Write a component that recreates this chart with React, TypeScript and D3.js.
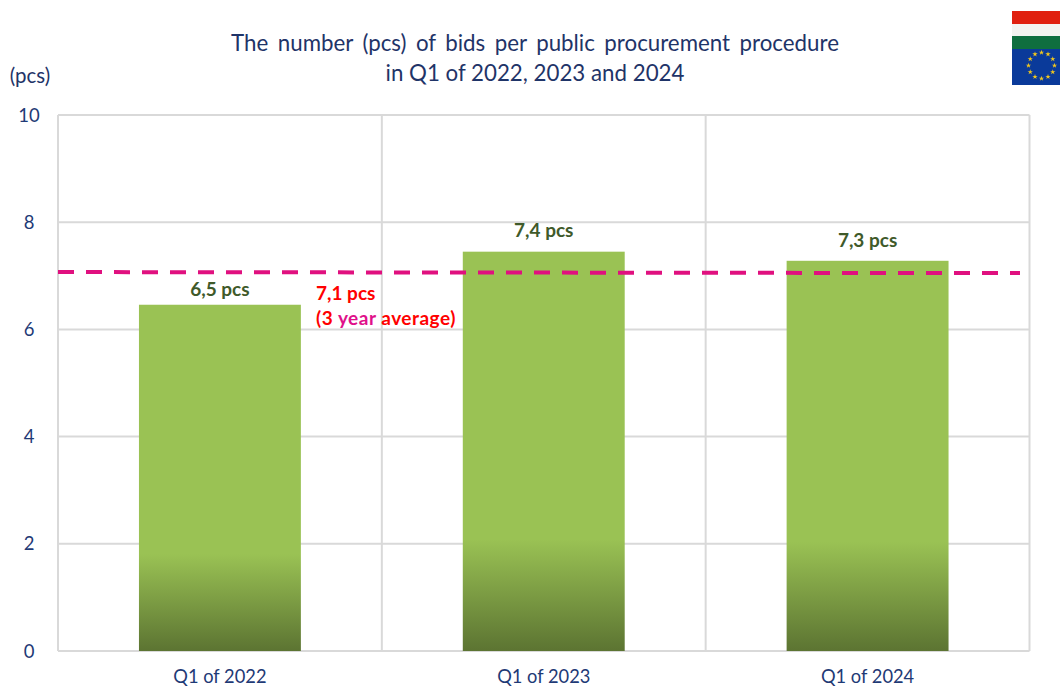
import React from "react";
import * as d3 from "d3";

const categories = ["Q1 of 2022", "Q1 of 2023", "Q1 of 2024"];
const values = [6.46, 7.45, 7.28];
const barLabels = ["6,5 pcs", "7,4 pcs", "7,3 pcs"];
const yTicks = [0, 2, 4, 6, 8, 10];
const averageLine = [7.07, 7.05];
const titleLines = ["The number (pcs) of bids per public procurement procedure", "in Q1 of 2022, 2023 and 2024"];
const avgLabelTop = "7,1 pcs";
const avgLabelBottom = [
  { text: "(3 ", color: "#ff0000" },
  { text: "year", color: "#e0108a" },
  { text: " average)", color: "#ff0000" },
];
const euStars = d3.range(12);

const FONT = "Lato, 'Open Sans', sans-serif";
const NAVY = "#1f3a76";
const TITLE = "#1f3468";
const labelGaps = [9, 15, 14];
const titleWordSpacing = [3.8, 0];

export default function App() {
  const x = d3.scaleBand<string>().domain(categories).range([58, 1029.5]).paddingInner(0.5).paddingOuter(0.25);
  const outer = d3.scaleBand<string>().domain(categories).range([58, 1029.5]);
  const y = d3.scaleLinear().domain([0, 10]).range([651, 115]);
  const star = d3.symbol().type(d3.symbolStar).size(9)() as string;
  const dashX = d3.scaleLinear().domain([0, 1]).range([58, 1020]);
  return (
    <svg width={1060} height={686} style={{ position: "absolute", left: 0, top: 0, background: "#fff" }} fontFamily={FONT}>
      <defs>
        <linearGradient id="barFill" x1="0" y1="0" x2="0" y2="1">
          <stop offset="0.72" stopColor="#9ac254" />
          <stop offset="1" stopColor="#5c7432" />
        </linearGradient>
      </defs>

      {titleLines.map((t, i) => (
        <text key={t} x={535} y={51 + i * 30} textAnchor="middle" fontSize={22.3} wordSpacing={titleWordSpacing[i]} fill={TITLE}>{t}</text>
      ))}
      <text x={30} y={83} textAnchor="middle" fontSize={20.5} fill={TITLE}>(pcs)</text>

      {yTicks.map((t) => (
        <g key={t}>
          <line x1={58} x2={1029.5} y1={y(t)} y2={y(t)} stroke="#d9d9d9" strokeWidth={2} />
          <text x={29} y={y(t) + 6.5} textAnchor="middle" fontSize={18.5} fill={NAVY}>{t}</text>
        </g>
      ))}
      {[0, 1, 2, 3].map((i) => {
        const px = 58 + i * outer.bandwidth();
        return <line key={i} x1={px} x2={px} y1={115} y2={651} stroke="#d9d9d9" strokeWidth={2} />;
      })}

      {categories.map((c, i) => (
        <g key={c}>
          <rect x={x(c)} y={y(values[i])} width={x.bandwidth()} height={651 - y(values[i])} fill="url(#barFill)" />
          <text x={x(c)! + x.bandwidth() / 2} y={y(values[i]) - labelGaps[i]} textAnchor="middle" fontSize={19} fontWeight={700} fill="#3f5a2a">{barLabels[i]}</text>
          <text x={x(c)! + x.bandwidth() / 2} y={682.5} textAnchor="middle" fontSize={18.3} fill={NAVY}>{c}</text>
        </g>
      ))}

      <line x1={dashX(0)} x2={dashX(1)} y1={y(averageLine[0])} y2={y(averageLine[1])} stroke="#e0107f" strokeWidth={4} strokeDasharray="16 12" />

      <text x={316} y={300} fontSize={19} fontWeight={700} fill="#ff0000">{avgLabelTop}</text>
      <text x={316} y={325} fontSize={19} fontWeight={700} letterSpacing={0.5}>
        {avgLabelBottom.map((s) => (
          <tspan key={s.text} fill={s.color} xmlSpace="preserve">{s.text}</tspan>
        ))}
      </text>

      <g>
        <rect x={1012} y={11} width={48} height={13} fill="#e0200f" />
        <rect x={1012} y={24} width={48} height={12} fill="#f3f3f0" />
        <rect x={1012} y={36} width={48} height={13} fill="#0f6e3f" />
        <rect x={1012} y={49} width={48} height={36} fill="#0a3a9a" />
        {euStars.map((i) => {
          const a = (i / euStars.length) * 2 * Math.PI;
          return <path key={i} d={star} fill="#f2c81e" transform={`translate(${1041.5 + 13 * Math.sin(a)},${65.5 - 13 * Math.cos(a)})`} />;
        })}
      </g>
    </svg>
  );
}
